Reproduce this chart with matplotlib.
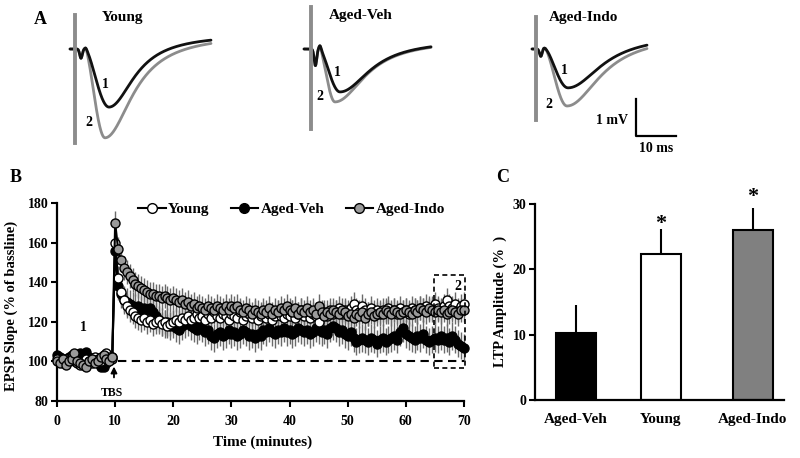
import numpy as np
import matplotlib
matplotlib.use('Agg')
import matplotlib.pyplot as plt
from matplotlib.lines import Line2D
from matplotlib.patches import Rectangle

W, H = 800, 458
plt.rcParams['font.family'] = ['Liberation Serif', 'DejaVu Serif']
plt.rcParams['font.weight'] = 'bold'
plt.rcParams['axes.labelweight'] = 'bold'

# ---------------- Panel A data ----------------
trace_groups = ['Young', 'Aged-Veh', 'Aged-Indo']
trace1_amp_mV = [1.57, 1.16, 1.05]      # trough depth before TBS (1)
trace2_amp_mV = [2.40, 1.43, 1.54]      # trough depth after LTP (2)
trace1_peak_ms = [8.5, 7.25, 8.0]
trace2_peak_ms = [7.5, 6.0, 7.75]
trace1_decay_ms = [7.6, 9.0, 10.0]
trace2_decay_ms = [8.3, 9.0, 10.0]
trace_onset_ms = [2.6, 2.2, 2.3]
trace_late_mV = [0.40, 0.25, 0.40]
trace_end_ms = [34.0, 30.0, 27.75]
trace_pre_ms = [1.25, 1.75, 1.0]
volley_mV = [0.25, 0.45, 0.2]
volley_ms = [1.5, 1.1, 1.2]
blip_mV = [0.03, 0.09, 0.03]
blip_ms = [2.7, 2.25, 2.0]
artifact_top_mV = [0.92, 1.13, 0.86]
artifact_bottom_mV = [-2.54, -2.16, -1.92]
scale_mV = 1.0
scale_ms = 10.0

# ---------------- Panel B data (% of baseline, every 0.5 min) ----------------
young_base = [101, 100, 99, 101, 100, 102, 100, 99, 98, 100, 101, 100, 99, 102, 101, 100, 103, 104, 102, 101]
veh_base = [103, 102, 101, 100, 102, 103, 101, 100, 104, 103, 105, 102, 100, 101, 99, 97, 97, 99, 101, 102]
indo_base = [100, 99, 101, 98, 100, 101, 104, 100, 99, 98, 97, 100, 101, 99, 100, 102, 103, 101, 100, 102]

young_post = [160, 142, 135, 131, 128, 126, 125, 123, 122, 121, 122, 120, 121, 119, 120, 121, 119, 120, 118, 119,
              120, 121, 120, 122, 121, 123, 121, 122, 124, 122, 123, 121, 124, 122, 125, 123, 122, 124, 123, 121,
              124, 123, 122, 125, 121, 123, 124, 122, 125, 121, 123, 124, 122, 124, 121, 123, 125, 123, 122, 124,
              123, 125, 122, 124, 126, 123, 125, 122, 124, 123, 120, 124, 125, 123, 126, 124, 125, 127, 124, 126,
              125, 127, 129, 126, 125, 128, 126, 124, 127, 125, 126, 124, 126, 125, 127, 125, 126, 124, 127, 125,
              126, 124, 127, 126, 125, 127, 126, 128, 126, 127, 129, 127, 126, 128, 131, 128, 127, 129, 126, 128,
              129]
veh_post = [156, 138, 134, 131, 130, 129, 128, 127, 128, 126, 127, 126, 127, 125, 123, 121, 120, 119, 120, 118,
            119, 117, 116, 118, 119, 120, 118, 117, 116, 118, 117, 115, 116, 113, 112, 114, 115, 113, 114, 116,
            114, 115, 113, 114, 116, 115, 113, 114, 112, 114, 113, 116, 115, 117, 115, 114, 116, 115, 117, 115,
            116, 114, 115, 117, 116, 115, 116, 114, 115, 117, 116, 115, 116, 114, 117, 118, 117, 115, 116, 114,
            113, 115, 112, 110, 111, 112, 111, 110, 112, 111, 109, 111, 112, 110, 111, 112, 113, 111, 115, 117,
            114, 113, 112, 111, 113, 112, 114, 111, 110, 111, 112, 111, 113, 111, 112, 110, 113, 111, 109, 108,
            107]
indo_post = [170, 157, 151, 147, 145, 143, 141, 139, 138, 137, 136, 135, 134, 134, 133, 133, 132, 133, 132, 131,
             132, 131, 130, 131, 129, 130, 128, 129, 127, 128, 127, 126, 128, 127, 126, 128, 127, 126, 128, 126,
             128, 127, 128, 126, 125, 127, 126, 124, 126, 125, 124, 126, 125, 127, 124, 126, 125, 127, 126, 128,
             126, 125, 127, 124, 126, 125, 127, 125, 126, 124, 128, 125, 123, 125, 124, 126, 125, 124, 126, 125,
             123, 124, 122, 124, 123, 125, 122, 124, 125, 123, 124, 125, 124, 126, 125, 124, 126, 125, 124, 125,
             126, 125, 124, 126, 125, 127, 126, 125, 127, 126, 125, 126, 125, 126, 124, 125, 126, 125, 124, 126,
             126]
# SEM per 10-minute block (0-10, 10-20, ..., 60-70)
young_sem_block = [2, 6, 6, 6, 6, 6, 6]
veh_sem_block = [2, 7, 7, 7, 7, 7, 7]
indo_sem_block = [2, 6, 6, 6, 6, 6, 6]
block_counts = [20, 20, 20, 20, 20, 20, 21]

# ---------------- Panel C data ----------------
ltp_groups = ['Aged-Veh', 'Young', 'Aged-Indo']
ltp_mean = [10.3, 22.4, 26.0]
ltp_sem = [4.3, 3.8, 3.4]
ltp_sig = [False, True, True]

# ---------------- helpers ----------------
def fp(x, y):
    return x / W, 1 - y / H

GRAY = '#8c8c8c'
BLACK = '#111111'

fig = plt.figure(figsize=(W / 100, H / 100), dpi=100)

# ================= Panel A =================
axA = fig.add_axes([0, 1 - 160 / H, 1, 160 / H])
axA.set_xlim(0, 200)
axA.set_ylim(-160 / 37, 0)
axA.axis('off')

trace_x0 = [18.75, 77.75, 134.0]   # layout: artifact position (ms in panel coords)
trace_y0 = -49 / 37                # layout: baseline level


def epsp(t, amp, tp, t0, tau, late, fv, fvt, bl, blt):
    s = np.clip((t - t0) / (tp - t0), 0, 1)
    rise = np.sin(np.pi / 2 * s) ** 1.5
    d = np.clip(t - tp, 0, None)
    decay = 1 / (1 + (d / tau) ** 2)
    g = np.where(t < tp, rise, decay)
    v = -amp * g + np.where(t >= tp, late * (1 - decay), 0)
    v = v - fv * np.exp(-((t - fvt) / 0.45) ** 2) + bl * np.exp(-((t - blt) / 0.4) ** 2)
    return v


for i in range(3):
    x0 = trace_x0[i]
    t = np.linspace(-trace_pre_ms[i], trace_end_ms[i], 800)
    for amp, tp, tau, col in [(trace2_amp_mV[i], trace2_peak_ms[i], trace2_decay_ms[i], GRAY),
                              (trace1_amp_mV[i], trace1_peak_ms[i], trace1_decay_ms[i], BLACK)]:
        v = epsp(t, amp, tp, trace_onset_ms[i], tau, trace_late_mV[i],
                 volley_mV[i], volley_ms[i], blip_mV[i], blip_ms[i])
        axA.plot(x0 + t, trace_y0 + v, color=col, lw=2, solid_capstyle='round')
    axA.plot([x0, x0], [trace_y0 + artifact_bottom_mV[i], trace_y0 + artifact_top_mV[i]],
             color=GRAY, lw=2.8)

# scale bar
sb_x, sb_y = 159.0, -136 / 37
axA.plot([sb_x, sb_x, sb_x + scale_ms], [sb_y + scale_mV, sb_y, sb_y], color='black', lw=1.6)

tA = dict(ha='center', va='center', fontweight='bold')
fig.text(*fp(40, 20), 'A', fontsize=13, **tA)
fig.text(*fp(123, 17), 'Young', fontsize=11, **tA)
fig.text(*fp(361, 16), 'Aged-Veh', fontsize=11, **tA)
fig.text(*fp(584, 18), 'Aged-Indo', fontsize=11, **tA)
for (x1, y1), (x2, y2) in [((105, 85), (89, 122)), ((337, 73), (320, 97)), ((564, 71), (549, 104))]:
    fig.text(*fp(x1, y1), '1', fontsize=10, **tA)
    fig.text(*fp(x2, y2), '2', fontsize=10, **tA)
fig.text(*fp(628, 120), '%g mV' % scale_mV, fontsize=10, ha='right', va='center', fontweight='bold')
fig.text(*fp(656, 149), '%g ms' % scale_ms, fontsize=10, ha='center', va='center', fontweight='bold')

# ================= Panel B =================
axB = fig.add_axes([57 / W, 1 - 401 / H, 407 / W, 198 / H])
time_min = np.arange(0, 70.01, 0.5)
series = [
    ('Aged-Veh', veh_base + veh_post, veh_sem_block, 'black'),
    ('Young', young_base + young_post, young_sem_block, 'white'),
    ('Aged-Indo', indo_base + indo_post, indo_sem_block, '#9a9a9a'),
]
for name, vals, semb, fc in series:
    vals = np.array(vals, dtype=float)
    sem = np.repeat(semb, block_counts)
    axB.errorbar(time_min, vals, yerr=sem, fmt='none', ecolor='#6a6a6a', elinewidth=1.0,
                 capsize=0, zorder=1, clip_on=False)
for name, vals, semb, fc in series:
    axB.plot(time_min, vals, color='black', lw=1.5, marker='o', ms=6.5, mfc=fc, mec='black',
             mew=1.0, zorder=3, clip_on=False)

axB.plot([10.5, 70], [100, 100], color='black', lw=1.5, ls=(0, (4, 2.6)), zorder=2)
axB.add_patch(Rectangle((64.8, 96.7), 5.3, 47, fill=False, ec='black', lw=1.2,
                        ls=(0, (3, 2)), zorder=4, clip_on=False))
axB.text(68.9, 137.8, '2', ha='center', va='center', fontsize=10, fontweight='bold')
axB.text(4.6, 117, '1', ha='center', va='center', fontsize=10, fontweight='bold')
axB.annotate('', xy=(9.8, 98.8), xytext=(9.8, 90.5), zorder=5,
             arrowprops=dict(arrowstyle='-|>', color='black', lw=1.3, mutation_scale=9))
axB.text(9.5, 84.2, 'TBS', ha='center', va='center', fontsize=8.5, fontweight='bold')

axB.set_xlim(0, 70)
axB.set_ylim(80, 180)
axB.set_xticks(range(0, 71, 10))
axB.set_yticks(range(80, 181, 20))
for s in ['top', 'right']:
    axB.spines[s].set_visible(False)
for s in ['left', 'bottom']:
    axB.spines[s].set_linewidth(1.6)
axB.tick_params(direction='out', length=4, width=1.5, labelsize=10, pad=2)
axB.tick_params(axis='x', pad=6)
for lab in axB.get_xticklabels() + axB.get_yticklabels():
    lab.set_fontweight('bold')
axB.set_ylabel('EPSP Slope (% of bassline)', fontsize=10.5, fontweight='bold')
axB.yaxis.set_label_coords(-0.096, 0.48)
axB.set_xlabel('Time (minutes)', fontsize=11, fontweight='bold')
axB.xaxis.set_label_coords(0.504, -0.175)

handles = [Line2D([], [], color='black', lw=1.5, marker='o', ms=7, mfc=fc, mec='black', mew=1.0)
           for fc in ['white', 'black', '#9a9a9a']]
leg = axB.legend(handles, ['Young', 'Aged-Veh', 'Aged-Indo'], ncol=3, loc='center left',
                 bbox_to_anchor=((138 - 57) / 407, (401 - 209) / 198), frameon=False,
                 prop=dict(size=11, weight='bold'), handlelength=1.8, handletextpad=0.15,
                 columnspacing=1.4, borderpad=0, borderaxespad=0)
fig.text(*fp(16, 177), 'B', fontsize=13, **tA)

# ================= Panel C =================
axC = fig.add_axes([535 / W, 1 - 400 / H, 249 / W, 196 / H])
bar_pos = [0, 1, 2.08]
bar_colors = ['black', 'white', '#808080']
star_gap = [0, -0.8, 0.1]   # layout: asterisk offset above the error bar
axC.bar(bar_pos, ltp_mean, width=0.47, color=bar_colors, edgecolor='black', linewidth=1.5, zorder=2)
axC.errorbar(bar_pos, ltp_mean, yerr=[np.zeros(3), ltp_sem], fmt='none', ecolor='black',
             elinewidth=1.5, capsize=0, zorder=1)
for p, m, e, sig, gap in zip(bar_pos, ltp_mean, ltp_sem, ltp_sig, star_gap):
    if sig:
        axC.text(p, m + e + gap, '*', ha='center', va='bottom', fontsize=16, fontweight='bold')
axC.set_xlim(-0.48, 2.45)
axC.set_ylim(0, 30)
axC.set_yticks([0, 10, 20, 30])
axC.set_xticks(bar_pos)
axC.set_xticklabels(ltp_groups, fontsize=11, fontweight='bold')
for s in ['top', 'right']:
    axC.spines[s].set_visible(False)
for s in ['left', 'bottom']:
    axC.spines[s].set_linewidth(1.6)
axC.tick_params(axis='y', direction='out', length=4, width=1.5, labelsize=10, pad=2)
axC.tick_params(axis='x', length=0, pad=9)
for lab in axC.get_yticklabels():
    lab.set_fontweight('bold')
axC.set_ylabel('LTP Amplitude (%  )', fontsize=10.5, fontweight='bold')
axC.yaxis.set_label_coords(-0.112, 0.505)
fig.text(*fp(503, 178), 'C', fontsize=13, **tA)

fig.savefig('out.png', dpi=100)
